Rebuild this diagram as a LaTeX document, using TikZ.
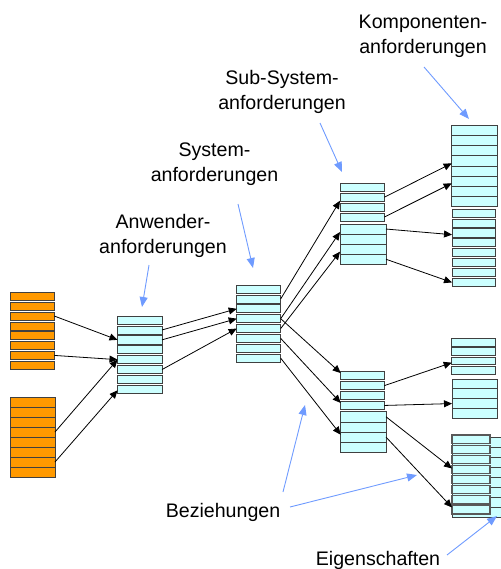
\documentclass[tikz,border=0pt]{standalone}
\usepackage{fontspec}
\setmainfont{Liberation Sans}
\usetikzlibrary{arrows.meta,calc}
\definecolor{cellcyan}{HTML}{CCFFFF}
\definecolor{cellorange}{HTML}{FF9900}
\definecolor{pointblue}{HTML}{6F9BFF}
\newcommand\gapstack[7]{% prefix, x, ytop, width, n, pitch, style
  \foreach \i in {1,...,#5}{
    \node[#7, minimum width=#4pt, minimum height={(#6-1.8)*1pt}, anchor=north west]
      (#1\i) at (#2,{#3+(\i-1)*#6}) {};
  }}
\newcommand\fullstack[7]{%
  \foreach \i in {1,...,#5}{
    \node[#7, minimum width=#4pt, minimum height={#6*1pt}, anchor=north west]
      (#1\i) at (#2,{#3+(\i-1)*#6}) {};
  }}
\tikzset{
  cyancell/.style={draw=black!75, fill=cellcyan, line width=0.7pt, inner sep=0pt, outer sep=0pt},
  orangecell/.style={draw=black!75, fill=cellorange, line width=0.7pt, inner sep=0pt, outer sep=0pt},
  frontcell/.style={draw=black!65, fill=cellcyan, line width=1.2pt, inner sep=0pt, outer sep=0pt},
  rel/.style={draw=black, line width=0.8pt, -{Triangle[length=8pt,width=7pt]}},
  pointer/.style={draw=pointblue, line width=0.9pt, -{Triangle[length=10pt,width=8pt]}},
  lbl/.style={font=\fontsize{19.6}{25}\selectfont, align=center, anchor=base, inner sep=0pt},
}
\begin{document}
\begin{tikzpicture}[x=1pt,y=-1pt]
\useasboundingbox (0,0) rectangle (500,569);
% stacks
\gapstack{oa}{10}{292.3}{44.3}{8}{9.85}{orangecell}
\fullstack{ob}{10}{397}{45}{8}{10}{orangecell}
\gapstack{an}{117.5}{316}{44.5}{8}{9.9}{cyancell}
\gapstack{sy}{236.7}{285}{44}{8}{9.875}{cyancell}
\gapstack{ua}{340}{183.3}{44.3}{4}{9.9}{cyancell}
\fullstack{ub}{340}{224}{46}{4}{10.07}{cyancell}
\gapstack{la}{340.7}{371.7}{43.6}{4}{9.9}{cyancell}
\fullstack{lb}{340.7}{411.7}{45.3}{4}{10.15}{cyancell}
\fullstack{ka}{451.7}{125.7}{45.6}{8}{10.04}{cyancell}
\gapstack{kb}{452}{209}{43.7}{8}{9.91}{cyancell}
\gapstack{kc}{451.7}{338.3}{44}{4}{9.35}{cyancell}
\fullstack{kd}{452}{379}{45.3}{4}{9.83}{cyancell}
\fullstack{ke}{452}{437}{60}{8}{10.1}{cyancell}
\gapstack{kf}{452}{435}{38}{8}{10.1}{frontcell}
% relations
\draw[rel] (oa3.east) -- (an3.west);
\draw[rel] (oa7.east) -- (an5.west);
\draw[rel] (ob4.east) -- (an5.west);
\draw[rel] (ob7.east) -- ($(an8.west)+(0,1)$);
\draw[rel] (an2.east) -- (sy3.west);
\draw[rel] (an3.east) -- (sy4.west);
\draw[rel] (an6.east) -- (sy5.west);
\draw[rel] (sy2.east) -- ($(ua2.west)+(0,3.5)$);
\draw[rel] (sy4.east) -- ($(ub1.west)+(0,3)$);
\draw[rel] (sy5.east) -- ($(ub3.west)+(0,2.5)$);
\draw[rel] (sy4.east) -- ($(la1.west)+(0,-2.7)$);
\draw[rel] (sy6.east) -- ($(la4.west)+(0,-2.5)$);
\draw[rel] (sy8.east) -- ($(lb3.west)+(0,-2.4)$);
\draw[rel] (ua2.east) -- ($(ka4.west)+(0,2.5)$);
\draw[rel] (ua4.east) -- ($(ka6.west)+(0,2.4)$);
\draw[rel] (ub1.east) -- ($(kb3.west)+(0,1.8)$);
\draw[rel] (ub4.east) -- (kb8.west);
\draw[rel] (la2.east) -- ($(kc3.west)+(0,1.9)$);
\draw[rel] (la4.east) -- (kd3.west);
\draw[rel] (lb1.east) -- ($(kf4.west)+(0,-1)$);
\draw[rel] (lb3.east) -- ($(kf8.west)+(0,-2.4)$);
% labels (base = baseline of last line)
\node[lbl] (komp) at (423,53.8) {Komponenten-\\anforderungen};
\node[lbl] (subs) at (282,110) {Sub-System-\\anforderungen};
\node[lbl] (syst) at (214.5,181.7) {System-\\anforderungen};
\node[lbl] (anwe) at (163,253.3) {Anwender-\\anforderungen};
\node[lbl] (bezi) at (223,517.3) {Beziehungen};
\node[lbl] (eige) at (378,565) {Eigenschaften};
% pointer coordinates
\coordinate (pkomp) at (424,67);   \coordinate (tkomp) at (469,119);
\coordinate (psubs) at (320,123);  \coordinate (tsubs) at (342,172);
\coordinate (psyst) at (238,204);  \coordinate (tsyst) at (253,268);
\coordinate (panwe) at (149,265);  \coordinate (tanwe) at (142,307);
\coordinate (pbeza) at (283,492);  \coordinate (tbeza) at (305,405);
\coordinate (pbezb) at (290,507);  \coordinate (tbezb) at (417,475);
\coordinate (peige) at (447,555);  \coordinate (teige) at (497,516);
\draw[pointer] (pkomp) -- (tkomp);
\draw[pointer] (psubs) -- (tsubs);
\draw[pointer] (psyst) -- (tsyst);
\draw[pointer] (panwe) -- (tanwe);
\draw[pointer] (pbeza) -- (tbeza);
\draw[pointer] (pbezb) -- (tbezb);
\draw[pointer] (peige) -- (teige);
\end{tikzpicture}
\end{document}
